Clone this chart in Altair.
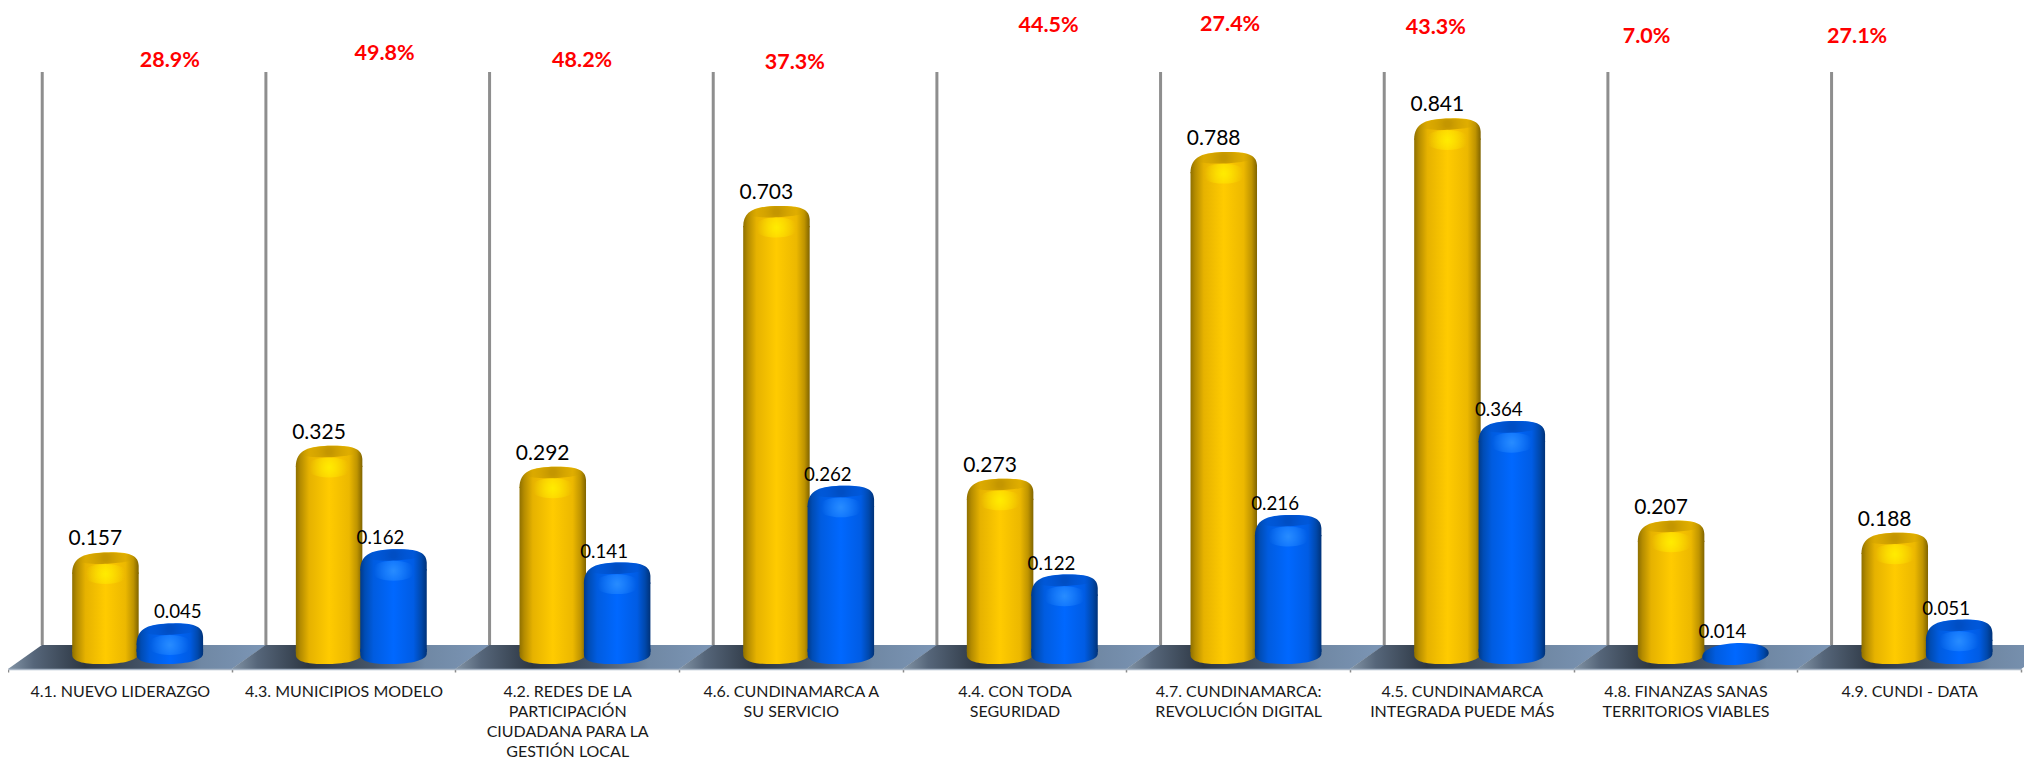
import altair as alt
import pandas as pd

categories = ["4.1. NUEVO LIDERAZGO", "4.3. MUNICIPIOS MODELO",
              "4.2. REDES DE LA|PARTICIPACIÓN|CIUDADANA PARA LA|GESTIÓN LOCAL",
              "4.6. CUNDINAMARCA A|SU SERVICIO", "4.4. CON TODA|SEGURIDAD",
              "4.7. CUNDINAMARCA:|REVOLUCIÓN DIGITAL", "4.5. CUNDINAMARCA|INTEGRADA PUEDE MÁS",
              "4.8. FINANZAS SANAS|TERRITORIOS VIABLES", "4.9. CUNDI - DATA"]
gold = [0.157, 0.325, 0.292, 0.703, 0.273, 0.788, 0.841, 0.207, 0.188]
blue = [0.045, 0.162, 0.141, 0.262, 0.122, 0.216, 0.364, 0.014, 0.051]
pct = ["28.9%", "49.8%", "48.2%", "37.3%", "44.5%", "27.4%", "43.3%", "7.0%", "27.1%"]
pct_height = [0.931, 0.942, 0.931, 0.928, 0.986, 0.988, 0.983, 0.969, 0.969]
pct_nudge = [50, 41, 15, 4, 34, -8, -26, -39, -52]
blue_nudge = [58, 37, 37, 37, 37, 37, 37, 37, 37]

WIDTH, HEIGHT = 2013, 661
half_band = WIDTH / 18

df = pd.DataFrame(dict(cat=categories, gold=gold, blue=blue, pct=pct,
                       pct_height=pct_height,
                       pct_nudge=[n + half_band for n in pct_nudge],
                       blue_nudge=[n + half_band for n in blue_nudge],
                       zero=0.0, wall_top=0.914, wall_bottom=0.011, floor_mid=-0.0079))

x = alt.X("cat:N", sort=categories, title=None,
          scale=alt.Scale(paddingInner=0, paddingOuter=0, round=False),
          axis=alt.Axis(labelAngle=0, labelExpr="split(datum.label,'|')", labelFont="Lato",
                        labelFontSize=16, labelColor="#1a1a1a", labelLimit=400, labelPadding=11,
                        labelLineHeight=20, labelBaseline="top", tickBand="extent", tickSize=3,
                        tickColor="#8a8a8a", tickWidth=1.5, domainColor="#a9b6c6", domainWidth=1.5,
                        labelOverlap=False, labelOffset=0, zindex=1))
yscale = alt.Scale(domain=[-0.0268, 1.0150], nice=False, zero=False)


def grad(colors, **kw):
    n = dict(gradient="linear", x1=0, x2=1, y1=0, y2=0)
    n.update(kw)
    return alt.LinearGradient(stops=[alt.GradientStop(color=c, offset=o) for o, c in colors], **n)


def radial(color, r1, r2):
    return alt.RadialGradient(gradient="radial", x1=0.5, y1=0.5, x2=0.5, y2=0.5, r1=r1, r2=r2,
                              stops=[alt.GradientStop(color=color.format(1), offset=0),
                                     alt.GradientStop(color=color.format(0), offset=1)])


GOLD = [(0, "#8f7000"), (0.07, "#b58c00"), (0.2, "#e6b200"), (0.5, "#ffcb00"), (0.8, "#ecb800"), (0.92, "#bf9400"), (1, "#806400")]
BLUE = [(0, "#003a8a"), (0.07, "#004cb4"), (0.2, "#005ce0"), (0.5, "#0068ff"), (0.8, "#005ce4"), (0.92, "#0048ac"), (1, "#003278")]
FLOOR = [(0, "#8496a8"), (0.1, "#56667a"), (0.3, "#2c3642"), (0.55, "#46566a"), (0.75, "#7088a4"), (1, "#7c96b6")]

FLOOR_SHAPE = "M-1,0.107 L1,0.107 L1.304,-0.107 L-0.696,-0.107 Z"
BASE_SHAPE = "M-1,0.08 C-1,0.35 -0.4,0.37 0,0.36 C0.5,0.35 1,0.25 1,0.05 L1,-0.1 L-1,-0.1 Z"
DOME_SHAPE = "M-1,0.64 C-1,0.12 -0.62,0 0.1,0 C0.72,-0.02 1,0.1 1,0.4 L1,0.64 Z"
DISC_SHAPE = "M-1,0.42 C-1,0.15 -0.4,0 0.15,0 C0.7,0 1,0.12 1,0.3 C1,0.5 0.4,0.66 -0.1,0.66 C-0.6,0.66 -1,0.6 -1,0.42 Z"
CAP_SHAPE = "M-0.85,0.26 C-0.72,0.06 -0.3,0 0.1,0 C0.5,0 0.85,0.06 0.85,0.2 C0.7,0.34 -0.55,0.42 -0.85,0.26 Z"
GLOW_SHAPE = "M-0.7,0.65 A0.7,0.3,0,1,1,0.7,0.65 A0.7,0.3,0,1,1,-0.7,0.65 Z"

base = alt.Chart(df).encode(x=x)

floor = base.mark_point(shape=FLOOR_SHAPE, size=50176, filled=True, opacity=1, strokeWidth=0, fill=grad(FLOOR)).encode(
    y=alt.Y("floor_mid:Q", scale=yscale, axis=None))
grid = base.mark_rule(color="#8e8e8e", strokeWidth=3, xOffset=-77.6).encode(
    y=alt.Y("wall_top:Q", scale=yscale, axis=None), y2="wall_bottom:Q")


def cylinder(field, off, stops, cap, glow):
    q = alt.Y(f"{field}:Q", scale=yscale, axis=None)
    z = alt.Y("zero:Q", scale=yscale, axis=None)
    sty = dict(filled=True, opacity=1, xOffset=off, size=4422, strokeWidth=0)
    tall = base.transform_filter(f"datum.{field} >= 0.03")
    flat = base.transform_filter(f"datum.{field} < 0.03")
    return [
        tall.mark_point(shape=BASE_SHAPE, fill=grad(stops), **sty).encode(y=z),
        tall.mark_bar(fill=grad(stops), width=66.5, xOffset=off, yOffset=20).encode(y=q, y2="zero:Q"),
        tall.mark_point(shape=DOME_SHAPE, fill=grad(stops), **sty).encode(y=q),
        tall.mark_point(shape=CAP_SHAPE, fill=radial(cap, 0.05, 0.5), **sty).encode(y=q),
        tall.mark_point(shape=GLOW_SHAPE, fill=radial(glow, 0, 0.42), **sty).encode(y=q),
        flat.mark_point(shape=DISC_SHAPE, fill=grad(stops), **sty).encode(y=q),
    ]


gold_lab = base.mark_text(font="Lato", fontSize=21, color="#000", baseline="middle", dy=-13, dx=-24.5).encode(
    y=alt.Y("gold:Q", scale=yscale, axis=None), text=alt.Text("gold:Q", format=".3f"))
blue_lab = base.mark_text(font="Lato", fontSize=18.7, color="#000", baseline="middle", dy=-11).encode(
    y=alt.Y("blue:Q", scale=yscale, axis=None), text=alt.Text("blue:Q", format=".3f"),
    xOffset=alt.XOffset("blue_nudge:Q", scale=None))
red_lab = base.mark_text(font="Lato", fontSize=21.5, fontWeight="bold", color="#ff0000", baseline="middle").encode(
    y=alt.Y("pct_height:Q", scale=yscale, axis=None), text="pct:N",
    xOffset=alt.XOffset("pct_nudge:Q", scale=None))

layers = [floor, grid]
layers += cylinder("gold", -14.4, GOLD, "rgba(196,150,0,{})", "rgba(255,236,0,{})")
layers += cylinder("blue", 50, BLUE, "rgba(0,78,196,{})", "rgba(40,140,255,{})")
layers += [gold_lab, blue_lab, red_lab]

chart = alt.layer(*layers).properties(
    width=WIDTH, height=HEIGHT,
    autosize=alt.AutoSizeParams(type="none"),
    padding={"left": 0, "right": 3, "top": 0, "bottom": 92},
).configure_view(stroke=None).resolve_scale(xOffset="independent")

chart.save("out.html", embed_options={"renderer": "svg", "actions": False})
